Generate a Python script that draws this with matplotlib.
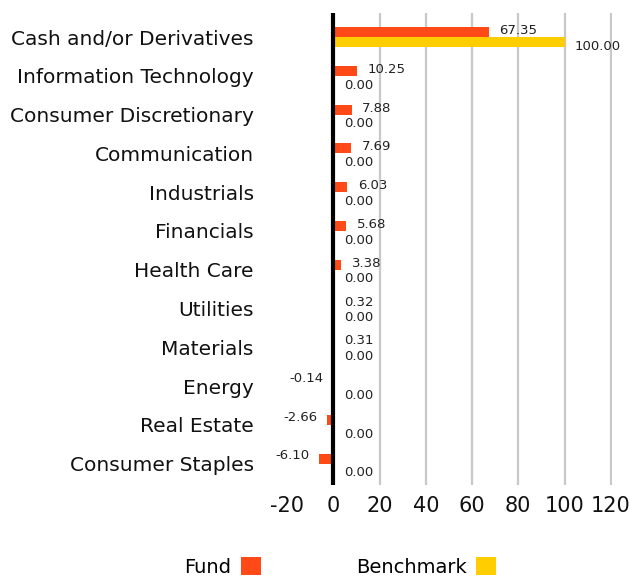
import matplotlib
matplotlib.use('Agg')
import numpy as np
import matplotlib.pyplot as plt

sectors = ['Cash and/or Derivatives', 'Information Technology', 'Consumer Discretionary',
           'Communication', 'Industrials', 'Financials', 'Health Care', 'Utilities',
           'Materials', 'Energy', 'Real Estate', 'Consumer Staples']
fund = [67.35, 10.25, 7.88, 7.69, 6.03, 5.68, 3.38, 0.32, 0.31, -0.14, -2.66, -6.10]
benchmark = [100.00, 0, 0, 0, 0, 0, 0, 0, 0, 0, 0, 0]
x_ticks = [-20, 0, 20, 40, 60, 80, 100, 120]

FUND_COLOR = '#FF4A17'
BENCH_COLOR = '#FFCD00'


def main():
    fig = plt.figure(figsize=(6.30, 5.79), dpi=100)
    ax = fig.add_axes([0.4556, 0.1624, 0.9714 - 0.4556, 0.9775 - 0.1624])

    y = np.arange(len(sectors))
    h = 0.26
    ax.barh(y - h / 2, fund, height=h, color=FUND_COLOR, label='Fund', zorder=3)
    ax.barh(y + h / 2, benchmark, height=h, color=BENCH_COLOR, label='Benchmark', zorder=3)

    # value labels
    for i, v in enumerate(fund):
        if v >= 0:
            ax.annotate('{:.2f}'.format(v), (v, i - h / 2), xytext=(7.5, 1), textcoords='offset points',
                        ha='left', va='center', fontsize=9.5, color='#222222')
        else:
            ax.annotate('{:.2f}'.format(v), (v, i - h / 2), xytext=(-7, 2), textcoords='offset points',
                        ha='right', va='center', fontsize=9.5, color='#222222')
    for i, v in enumerate(benchmark):
        ax.annotate('{:.2f}'.format(v), (v, i + h / 2), xytext=(7.5, -3), textcoords='offset points',
                    ha='left', va='center', fontsize=9.5, color='#222222')

    ax.set_xlim(-20, 120.5)
    ax.set_ylim(len(sectors) - 0.45, -0.62)
    ax.set_xticks(x_ticks)
    ax.set_xticklabels([str(t) for t in x_ticks], fontsize=15, color='#111111')
    ax.set_yticks(y)
    ax.set_yticklabels(sectors, fontsize=14.5, color='#111111')
    ax.tick_params(axis='y', length=0, pad=24)
    ax.tick_params(axis='x', length=0, pad=8)

    for t in x_ticks[2:]:
        ax.axvline(t, color='#c8c8c8', lw=1.6, zorder=1)
    ax.axvline(0, color='black', lw=3, zorder=4, ymin=-0.01, ymax=1)

    for s in ax.spines.values():
        s.set_visible(False)

    handles, labels = ax.get_legend_handles_labels()
    fig.legend(handles, labels, loc='center', bbox_to_anchor=(0.54, 0.021), ncol=2, frameon=False,
               markerfirst=False, fontsize=14, handlelength=1.0, handleheight=1.0,
               columnspacing=4.9, handletextpad=0.5, borderpad=0)

    plt.savefig('out.png', dpi=100)


if __name__ == '__main__':
    main()
